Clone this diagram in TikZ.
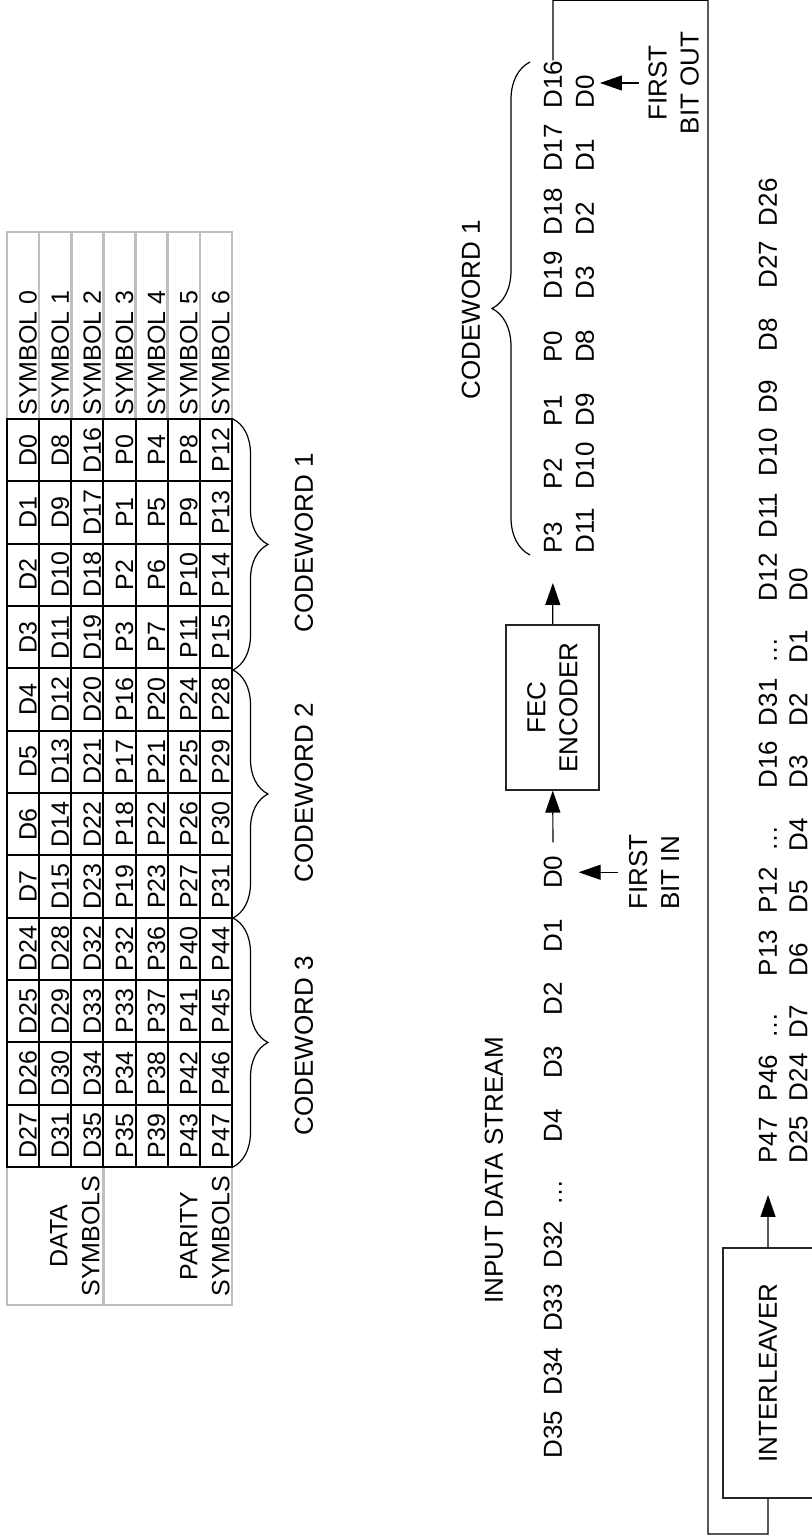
\documentclass[tikz,border=0pt]{standalone}
\usepackage{fontspec}
\setmainfont{Liberation Sans}
\usetikzlibrary{calc, positioning, arrows.meta, decorations.pathreplacing}

\tikzset{
        txt/.style={font=\fontsize{13}{16}\selectfont, inner sep=0pt, anchor=base west},
        cell/.style={font=\fontsize{12.5}{16}\selectfont, inner sep=0pt, anchor=base},
        blk/.style={draw=black!85, line width=0.6pt, align=center, font=\fontsize{13}{16}\selectfont},
        flow/.style={-{Triangle[length=11pt, width=7.5pt]}, line width=0.6pt},
        tblline/.style={line width=1pt},
        graybox/.style={draw=black!25, line width=1.3pt},
        cbrace/.style={decorate, decoration={brace, amplitude=#1}, line width=0.6pt}
}

\begin{document}
\begin{tikzpicture}[x=0.5pt, y=0.5pt]
\begin{scope}[rotate=90, transform shape]
        \useasboundingbox (0,0) rectangle (1539,812);

        % symbol table
        \draw[graybox] (234,580) rectangle (1307,805);
        \draw[graybox] (234,708.6) -- (372,708.6);
        \foreach \r in {1,...,6}
                \draw[graybox] (1120,{805-32.14*\r}) -- (1307,{805-32.14*\r});
        \draw[tblline] (372,580) rectangle (1120,805);
        \foreach \i in {1,...,11}
                \draw[tblline] ({372+62.33*\i},580) -- ({372+62.33*\i},805);
        \foreach \r in {1,...,6}
                \draw[tblline] (372,{805-32.14*\r}) -- (1120,{805-32.14*\r});

        \foreach \vals [count=\r from 0] in {
                {D27,D26,D25,D24,D7,D6,D5,D4,D3,D2,D1,D0},
                {D31,D30,D29,D28,D15,D14,D13,D12,D11,D10,D9,D8},
                {D35,D34,D33,D32,D23,D22,D21,D20,D19,D18,D17,D16},
                {P35,P34,P33,P32,P19,P18,P17,P16,P3,P2,P1,P0},
                {P39,P38,P37,P36,P23,P22,P21,P20,P7,P6,P5,P4},
                {P43,P42,P41,P40,P27,P26,P25,P24,P11,P10,P9,P8},
                {P47,P46,P45,P44,P31,P30,P29,P28,P15,P14,P13,P12}}
        {
                \foreach \v [count=\i from 0] in \vals
                        \node[cell] (t\r-\i) at ({403.17+62.33*\i},{805-32.14*(\r+1)+2.5}) {\v};
        }
        \foreach \r in {0,...,6}
                \node[cell, anchor=base west] (sym\r) at (1123,{805-32.14*(\r+1)+2.5}) {SYMBOL \r};

        \node[cell, align=center, anchor=south] (dsym) at (303,712) {DATA\\SYMBOLS};
        \node[cell, align=center, anchor=south] (psym) at (303,582) {PARITY\\SYMBOLS};

        \draw[cbrace=17.5pt] (1120,579) -- (869,579);
        \draw[cbrace=17.5pt] (869,579) -- (621,579);
        \draw[cbrace=17.5pt] (621,579) -- (372,579);
        \node[txt, anchor=base] (cw1) at (996,499) {CODEWORD 1};
        \node[txt, anchor=base] (cw2) at (746,499) {CODEWORD 2};
        \node[txt, anchor=base] (cw3) at (493,499) {CODEWORD 3};

        % input stream and encoder
        \node[txt] (ids) at (235,309) {INPUT DATA STREAM};
        \foreach \v [count=\k from 0] in {D35,D34,D33,D32,…,D4,D3,D2,D1,D0}
                \node[txt] (in\k) at ({80+63.3*\k},250) {\v};
        \node[txt, align=left, below=33pt of in9] (fbi) {FIRST\\BIT IN};
        \draw[flow, shorten <=5.5pt, shorten >=8pt] (fbi) -- (in9);

        \node[blk, minimum width=82.5pt, minimum height=46.5pt] (fec) at (831.5,259.5) {FEC\\ENCODER};
        \draw[flow, shorten <=6.5pt] (in9) -- (fec);

        \foreach \v [count=\k from 0] in {P3,P2,P1,P0,D19,D18,D17,D16}
                \node[txt] (a\k) at ({985+63.6*\k},250) {\v};
        \foreach \v [count=\k from 0] in {D11,D10,D9,D8,D3,D2,D1,D0}
                \node[txt] (b\k) at ({985+63.6*\k},218) {\v};
        \draw[flow, shorten >=14.5pt] (fec) -- (a0);

        \draw[cbrace=19pt] (984,282) -- (1477,282);
        \node[txt, anchor=base] (cwo) at (1229,332) {CODEWORD 1};

        \node[txt, align=center, anchor=north] (fbo) at (1456,164) {FIRST\\BIT OUT};
        \coordinate (fbotip) at (1456,212);
        \draw[flow, shorten <=4.5pt] (fbo) -- (fbotip);

        % interleaver loop
        \node[blk, minimum width=125pt, minimum height=45pt] (ilv) at (166,44) {INTERLEAVER};
        \draw[line width=0.6pt] (a7.east) -- ++(60,0) -- ++(0,-155) -- (5,104) -- (5,44) -- (ilv.west);

        \foreach \v [count=\k from 0] in {P47,P46,…,P13,P12,…,D16,D31,…,D12,D11,D10,D9,D8,D27,D26}
                \node[txt] (c\k) at ({375+62.5*\k},35) {\v};
        \foreach \v [count=\k from 0] in {D25,D24,D7,D6,D5,D4,D3,D2,D1,D0}
                \node[txt] (d\k) at ({375+62.5*\k},4.5) {\v};
        \draw[flow, shorten >=15.5pt] (ilv) -- (c0);
\end{scope}
\end{tikzpicture}
\end{document}
